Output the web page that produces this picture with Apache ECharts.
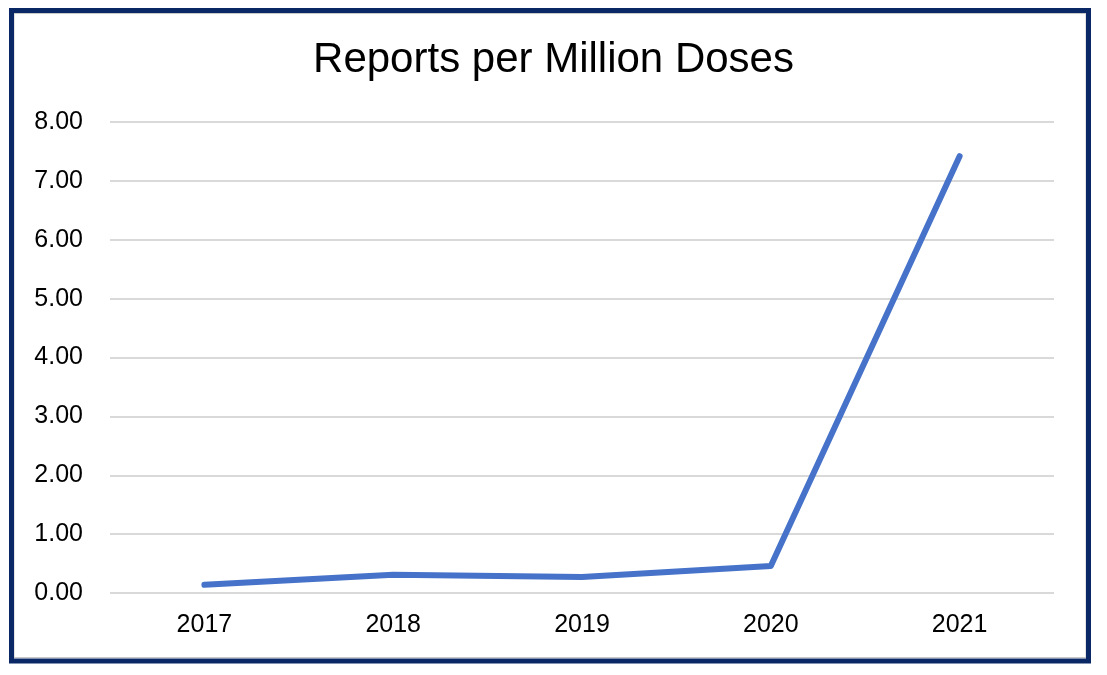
<!DOCTYPE html>
<html>
<head>
<meta charset="utf-8">
<script src="https://cdn.jsdelivr.net/npm/echarts@6/dist/echarts.min.js"></script>
<style>
html,body{margin:0;padding:0;background:#fff;}
#chart{width:1107px;height:675px;}
</style>
</head>
<body>
<div id="chart"></div>
<script>
var title = 'Reports per Million Doses';
var years = ['2017', '2018', '2019', '2020', '2021'];
var reportsPerMillion = [0.14, 0.31, 0.27, 0.46, 7.42];

var chart = echarts.init(document.getElementById('chart'), null, {renderer: 'canvas'});
chart.setOption({
  backgroundColor: '#ffffff',
  animation: false,
  title: {
    text: title,
    left: 'center',
    top: 34,
    textStyle: {fontFamily: 'Liberation Sans, Arial, sans-serif', fontSize: 42, fontWeight: 'normal', color: '#000'}
  },
  grid: {left: 110, right: 53, top: 122, bottom: 82},
  xAxis: {
    type: 'category',
    data: years,
    boundaryGap: true,
    axisLine: {show: false},
    axisTick: {show: false},
    axisLabel: {margin: 20, fontFamily: 'Liberation Sans, Arial, sans-serif', fontSize: 25, color: '#000'}
  },
  yAxis: {
    type: 'value',
    min: 0, max: 8, interval: 1,
    axisLine: {show: false},
    axisTick: {show: false},
    axisLabel: {margin: 27, fontFamily: 'Liberation Sans, Arial, sans-serif', fontSize: 25, color: '#000',
      formatter: function (v) { return v.toFixed(2); }},
    splitLine: {lineStyle: {color: '#d9d9d9', width: 2}}
  },
  series: [{
    type: 'line',
    data: reportsPerMillion,
    showSymbol: false,
    symbol: 'none',
    lineStyle: {color: '#4673c9', width: 6, cap: 'round', join: 'round'}
  }],
  graphic: [
    {type: 'rect', silent: true, z: 100,
     shape: {x: 14, y: 13.5, width: 1072, height: 644},
     style: {fill: 'none', stroke: '#c8c8c8', lineWidth: 1}},
    {type: 'rect', silent: true, z: 101,
     shape: {x: 11.5, y: 10.5, width: 1077, height: 650.5},
     style: {fill: 'none', stroke: '#0b2866', lineWidth: 5}}
  ]
});
</script>
</body>
</html>
